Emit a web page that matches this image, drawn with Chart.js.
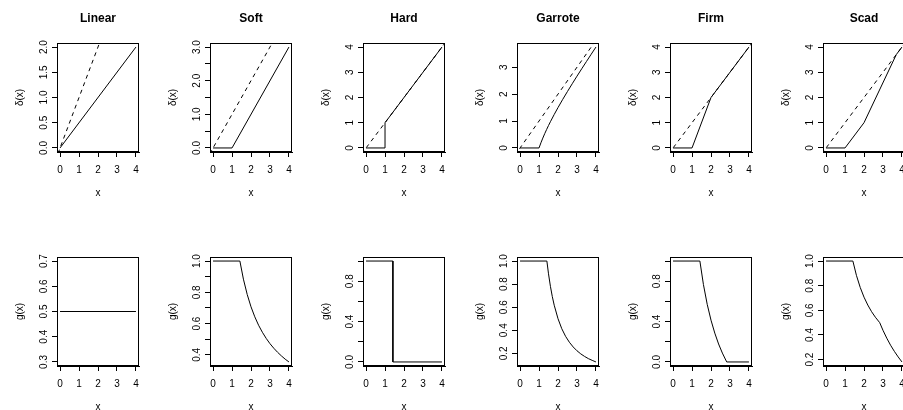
<!DOCTYPE html>
<html>
<head>
<meta charset="utf-8">
<script src="https://cdn.jsdelivr.net/npm/chart.js@4.4.1/dist/chart.umd.min.js"></script>
<style>
  body { margin: 0; background: #fff; }
  #wrap { position: relative; width: 903px; height: 410px; overflow: hidden; background: #fff; }
  #wrap canvas { position: absolute; }
</style>
</head>
<body>
<div id="wrap"></div>
<script>
// panel titles and x axis
var titles = ['Linear', 'Soft', 'Hard', 'Garrote', 'Firm', 'Scad'];
var xRange = [0, 4];
var xTicks = [0, 1, 2, 3, 4];
var identityLine = [-1, 5]; // dashed y = x reference

// top row: thresholding rule delta(x)
var linearDeltaX = [0, 4];
var linearDeltaY = [0, 2];
var softDeltaX = [0, 1, 4];
var softDeltaY = [0, 0, 3];
var hardDeltaX = [0, 1, 1, 4];
var hardDeltaY = [0, 0, 1, 4];
var garroteDeltaX = [0, 1, 1.1, 1.2, 1.3, 1.4, 1.5, 1.6, 1.8, 2, 2.25, 2.5, 2.75, 3, 3.25, 3.5, 3.75, 4];
var garroteDeltaY = [0, 0, 0.191, 0.367, 0.531, 0.686, 0.833, 0.975, 1.244, 1.5, 1.806, 2.1, 2.386, 2.667, 2.942, 3.214, 3.483, 3.75];
var firmDeltaX = [0, 1, 2, 4];
var firmDeltaY = [0, 0, 2, 4];
var scadDeltaX = [0, 1, 2, 3.7, 4];
var scadDeltaY = [0, 0, 1, 3.7, 4];

// bottom row: weight g(x)
var linearGX = [0, 4];
var linearGY = [0.5, 0.5];
var softGX = [0, 1.414, 1.6, 1.8, 2, 2.2, 2.4, 2.6, 2.8, 3, 3.2, 3.4, 3.6, 3.8, 4];
var softGY = [1, 1, 0.884, 0.786, 0.707, 0.643, 0.589, 0.544, 0.505, 0.471, 0.442, 0.416, 0.393, 0.372, 0.354];
var hardGX = [0, 1.414, 1.414, 4];
var hardGY = [1, 1, 0, 0];
var garroteGX = [0, 1.414, 1.5, 1.6, 1.7, 1.8, 2, 2.2, 2.4, 2.6, 2.8, 3, 3.2, 3.4, 3.6, 3.8, 4];
var garroteGY = [1, 1, 0.889, 0.781, 0.692, 0.617, 0.5, 0.413, 0.347, 0.296, 0.255, 0.222, 0.195, 0.173, 0.154, 0.139, 0.125];
var firmGX = [0, 1.414, 1.6, 1.8, 2, 2.2, 2.4, 2.6, 2.828, 4];
var firmGY = [1, 1, 0.768, 0.571, 0.414, 0.286, 0.178, 0.088, 0, 0];
var scadGX = [0, 1.414, 1.6, 1.8, 2, 2.2, 2.4, 2.6, 2.828, 3, 3.2, 3.4, 3.6, 3.8, 4];
var scadGY = [1, 1, 0.884, 0.786, 0.707, 0.643, 0.589, 0.544, 0.5, 0.438, 0.374, 0.317, 0.267, 0.222, 0.181];

// y axes: data range, tick positions, tick labels ('' = tick without label)
var deltaYRange = [[0, 2], [0, 3], [0, 4], [0, 3.75], [0, 4], [0, 4]];
var deltaYTicks = [
    [0, 0.5, 1, 1.5, 2],
    [0, 0.5, 1, 1.5, 2, 2.5, 3],
    [0, 1, 2, 3, 4],
    [0, 1, 2, 3],
    [0, 1, 2, 3, 4],
    [0, 1, 2, 3, 4]
];
var deltaYLabels = [
    ['0.0', '0.5', '1.0', '1.5', '2.0'],
    ['0.0', '', '1.0', '', '2.0', '', '3.0'],
    ['0', '1', '2', '3', '4'],
    ['0', '1', '2', '3'],
    ['0', '1', '2', '3', '4'],
    ['0', '1', '2', '3', '4']
];
var gYRange = [[0.3, 0.7], [0.354, 1], [0, 1], [0.125, 1], [0, 1], [0.181, 1]];
var gYTicks = [
    [0.3, 0.4, 0.5, 0.6, 0.7],
    [0.4, 0.5, 0.6, 0.7, 0.8, 0.9, 1],
    [0, 0.2, 0.4, 0.6, 0.8, 1],
    [0.2, 0.4, 0.6, 0.8, 1],
    [0, 0.2, 0.4, 0.6, 0.8, 1],
    [0.2, 0.4, 0.6, 0.8, 1]
];
var gYLabels = [
    ['0.3', '0.4', '0.5', '0.6', '0.7'],
    ['0.4', '', '0.6', '', '0.8', '', '1.0'],
    ['0.0', '', '0.4', '', '0.8', ''],
    ['0.2', '0.4', '0.6', '0.8', '1.0'],
    ['0.0', '', '0.4', '', '0.8', ''],
    ['0.2', '0.4', '0.6', '0.8', '1.0']
];

var deltaX = [linearDeltaX, softDeltaX, hardDeltaX, garroteDeltaX, firmDeltaX, scadDeltaX];
var deltaY = [linearDeltaY, softDeltaY, hardDeltaY, garroteDeltaY, firmDeltaY, scadDeltaY];
var gX = [linearGX, softGX, hardGX, garroteGX, firmGX, scadGX];
var gY = [linearGY, softGY, hardGY, garroteGY, firmGY, scadGY];

var FONT = '"Liberation Sans", Arial, Helvetica, sans-serif';

function toPoints(xs, ys) {
    return xs.map(function(x, i) { return {x: x, y: ys[i]}; });
}

// R adds 4% on each side of the data range
function expand(r) {
    var d = (r[1] - r[0]) * 0.04;
    return [r[0] - d, r[1] + d];
}

// box around the plot region, panel title and R-style rotated y tick labels
var rStyle = {
    id: 'rStyle',
    afterDraw: function(chart, args, opts) {
        var a = chart.chartArea;
        var ctx = chart.ctx;
        var y = chart.scales.y;
        ctx.save();
        ctx.strokeStyle = '#000';
        ctx.lineWidth = 1;
        ctx.strokeRect(Math.round(a.left) + 0.5, Math.round(a.top) + 0.5,
            Math.round(a.right - a.left) - 1, Math.round(a.bottom - a.top) - 1);
        ctx.fillStyle = '#000';
        if (opts.title) {
            ctx.font = 'bold 12px ' + FONT;
            ctx.textAlign = 'center';
            ctx.textBaseline = 'middle';
            ctx.fillText(opts.title, (a.left + a.right) / 2, 19);
        }
        ctx.font = '10px ' + FONT;
        ctx.textAlign = 'center';
        ctx.textBaseline = 'alphabetic';
        opts.ticks.forEach(function(v, i) {
            if (!opts.labels[i]) return;
            ctx.save();
            ctx.translate(a.left - 10, y.getPixelForValue(v));
            ctx.rotate(-Math.PI / 2);
            ctx.fillText(opts.labels[i], 0, 0);
            ctx.restore();
        });
        ctx.restore();
    }
};

function makePanel(left, top, title, yTitle, xs, ys, yRange, yTicks, yLabels, dashed) {
    var canvas = document.createElement('canvas');
    canvas.width = 153;
    canvas.height = 205;
    canvas.style.left = left + 'px';
    canvas.style.top = top + 'px';
    document.getElementById('wrap').appendChild(canvas);

    var datasets = [{
        data: toPoints(xs, ys),
        borderColor: '#000',
        borderWidth: 1,
        pointRadius: 0,
        showLine: true,
        tension: 0
    }];
    if (dashed) {
        datasets.push({
            data: toPoints(identityLine, identityLine),
            borderColor: '#000',
            borderWidth: 1,
            borderDash: [4, 4],
            pointRadius: 0,
            showLine: true,
            clip: 0
        });
    }
    var xr = expand(xRange);
    var yr = expand(yRange);

    return new Chart(canvas.getContext('2d'), {
        type: 'scatter',
        data: {datasets: datasets},
        plugins: [rStyle],
        options: {
            responsive: false,
            animation: false,
            devicePixelRatio: 1,
            events: [],
            layout: {padding: {top: 43, right: 14, left: 0, bottom: 0}},
            plugins: {
                legend: {display: false},
                tooltip: {enabled: false},
                rStyle: {title: title, ticks: yTicks, labels: yLabels}
            },
            scales: {
                x: {
                    type: 'linear',
                    min: xr[0],
                    max: xr[1],
                    afterBuildTicks: function(s) { s.ticks = xTicks.map(function(v) { return {value: v}; }); },
                    afterFit: function(s) { s.height = 53; s.paddingLeft = 0; s.paddingRight = 0; },
                    grid: {drawOnChartArea: false, drawTicks: true, tickLength: 5, color: '#000'},
                    border: {display: true, color: '#000'},
                    ticks: {color: '#000', padding: 7, maxRotation: 0, font: {size: 10, family: FONT}},
                    title: {display: true, text: 'x', color: '#000', font: {size: 10, family: FONT}, padding: {top: 0, bottom: 6}}
                },
                y: {
                    type: 'linear',
                    min: yr[0],
                    max: yr[1],
                    afterBuildTicks: function(s) { s.ticks = yTicks.map(function(v) { return {value: v}; }); },
                    afterFit: function(s) { s.width = 57; s.paddingTop = 0; s.paddingBottom = 0; },
                    grid: {drawOnChartArea: false, drawTicks: true, tickLength: 5, color: '#000'},
                    border: {display: true, color: '#000'},
                    ticks: {display: false},
                    title: {display: true, text: yTitle, color: '#000', font: {size: 10, family: FONT}, padding: {top: 14, bottom: 0}}
                }
            }
        }
    });
}

document.addEventListener('DOMContentLoaded', function() {
    for (var i = 0; i < 6; i++) {
        var left = Math.round(i * 153.2);
        makePanel(left, 0, titles[i], 'δ(x)', deltaX[i], deltaY[i], deltaYRange[i], deltaYTicks[i], deltaYLabels[i], true);
        makePanel(left, 214, '', 'g(x)', gX[i], gY[i], gYRange[i], gYTicks[i], gYLabels[i], false);
    }
});
</script>
</body>
</html>
